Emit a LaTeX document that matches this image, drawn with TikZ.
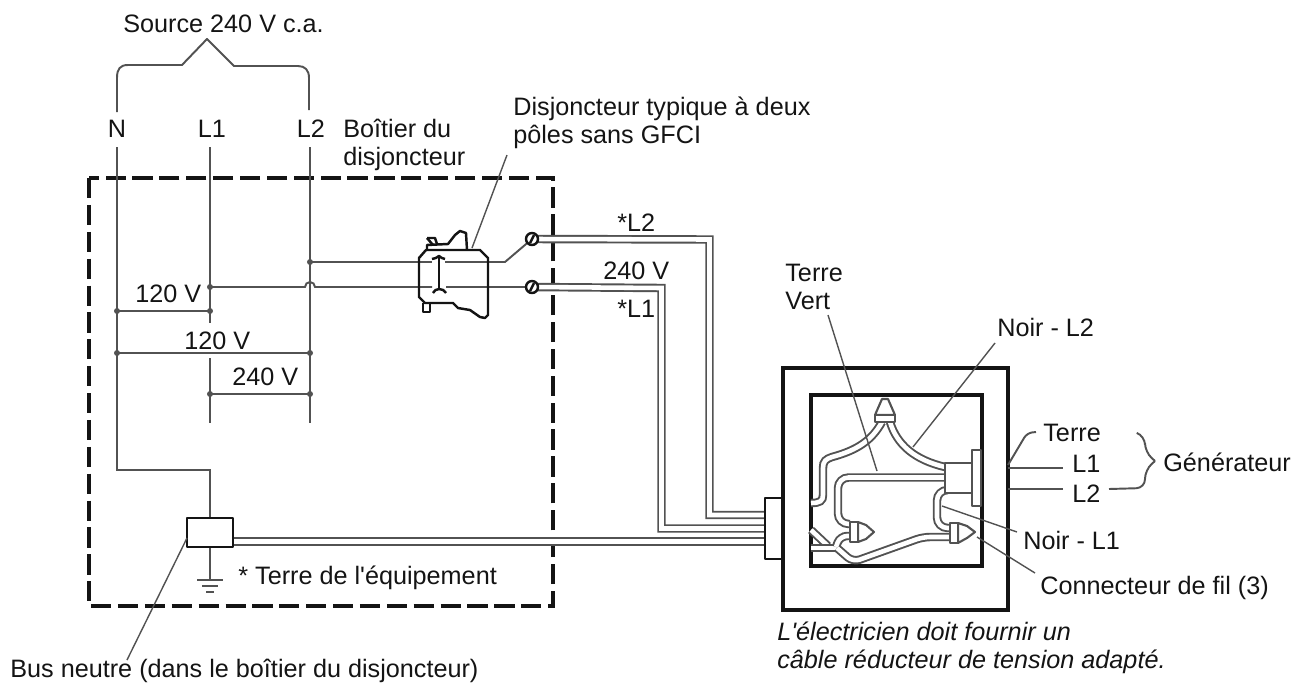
\documentclass[tikz,border=0pt]{standalone}
\usepackage{fontspec}
\newfontfamily\lblfont{Liberation Sans}
\usetikzlibrary{calc}
\definecolor{wiregray}{gray}{0.32}
\definecolor{boxblack}{gray}{0.08}
\tikzset{
  lbl/.style={anchor=base west,inner sep=0pt,font=\lblfont\fontsize{14.35}{17}\selectfont,text=boxblack},
  lblc/.style={anchor=base,inner sep=0pt,font=\lblfont\fontsize{14.35}{17}\selectfont,text=boxblack},
  thinwire/.style={draw=wiregray,line width=1.1pt},
  leader/.style={draw=wiregray,line width=0.8pt},
  wirepair/.style={draw=wiregray,line width=1.1pt,double=white,double distance=2.6pt},
  heavy/.style={draw=boxblack,line width=2pt},
  part/.style={draw=boxblack,line width=1.4pt,line join=round,fill=white},
  conn/.style={draw=wiregray,line width=1.2pt,line join=round,fill=white},
}
\begin{document}
\begin{tikzpicture}[x=0.02cm,y=-0.02cm]
\useasboundingbox (0,0) rectangle (1296,690);
% source side
\node[lbl] (source) at (123,32) {Source 240 V c.a.};
\node[lblc] (n) at (117,137) {N};
\node[lblc] (lone) at (212,137) {L1};
\node[lblc] (ltwo) at (311,137) {L2};
\node[lbl] (boitier) at (343,137) {Boîtier du};
\node[lbl] (boitierb) at (343,165) {disjoncteur};
\node[lbl] (typique) at (513,115) {Disjoncteur typique à deux};
\node[lbl] (typiqueb) at (513,143) {pôles sans GFCI};
\draw[thinwire,line join=round] (117,112) -- (117,78) .. controls (117,69) and (120,65) .. (128,65) -- (182,65) -- (207,39) -- (234,66) -- (298,66) .. controls (305,66) and (309,70) .. (309,78) -- (309,110);
% case
\draw[heavy,dash pattern=on 11.5pt off 3.8pt] (89,178) rectangle (553,606);
\coordinate (nt) at (117,147);
\coordinate (ot) at (210,147);
\coordinate (tt) at (310,147);
\coordinate (lka) at (210,287);
\coordinate (tka) at (310,262);
\coordinate (nb) at (117,311);
\coordinate (ob) at (210,311);
\coordinate (nc) at (117,353);
\coordinate (tc) at (310,353);
\coordinate (od) at (210,394);
\coordinate (td) at (310,394);
\draw[thinwire] (nt) -- (117,470) -- (210,470) -- (210,518);
\draw[thinwire] (ot) -- (210,323);
\draw[thinwire] (210,358) -- (210,423);
\draw[thinwire] (tt) -- (310,423);
\draw[thinwire] (nb) -- (ob);
\draw[thinwire] (nc) -- (tc);
\draw[thinwire] (od) -- (td);
\foreach \p in {lka,tka,nb,ob,nc,tc,od,td}
  \fill[wiregray] (\p) circle (3);
\node[lbl] (va) at (135,302) {120 V};
\node[lbl] (vb) at (184,349) {120 V};
\node[lbl] (vc) at (232,385) {240 V};
% feed to breaker
\coordinate (tone) at (532,239);
\coordinate (ttwo) at (532,287);
\draw[thinwire] (tka) -- (432,262);
\draw[thinwire] (445,262) -- (505,262) -- (tone);
\draw[thinwire] (lka) -- (305,287) arc (180:360:5) -- (432,287);
\draw[thinwire] (446,287) -- (ttwo);
% breaker
\draw[part,fill=none] (419,258) -- (426,250) -- (480,250) -- (488,258) -- (488,315) -- (485,318) -- (480,317) -- (470,310) -- (458,308) -- (453,303) -- (425,303) -- (419,297) -- cycle;
\draw[part,fill=none] (427,250) -- (427,245) -- (448,244) -- (455,235) -- (460,231) -- (466,233) -- (467,250);
\draw[part,fill=none] (427,238) -- (435,238) -- (437,244);
\draw[part,fill=none] (427,238) -- (433,245);
\draw[part,fill=none] (423,303) -- (423,312) -- (430,312) -- (430,303);
\draw[part,fill=none] (439,257) -- (439,289);
\draw[part,fill=none] (432,259) to[bend right=15] (439,256) to[bend right=15] (445,259);
\draw[part,fill=none] (433,293) to[bend left=30] (439,289) to[bend left=30] (446,293);
\draw[leader] (507,155) -- (472,248);
% wires to the box
\draw[wirepair] (tone) -- (709.5,239.5) -- (709.5,515) -- (765,515);
\draw[wirepair] (ttwo) -- (661.5,288) -- (661.5,528.5) -- (765,528.5);
\draw[wirepair] (233,541.5) -- (765,541.5);
\foreach \p in {tone,ttwo} {
  \draw[part] (\p) circle (6);
  \draw[part] ($(\p)+(-2,4)$) -- ($(\p)+(2,-4)$);
}
\node[lbl] (ltwow) at (617,231) {*L2};
\node[lbl] (vd) at (603,279) {240 V};
\node[lbl] (lonew) at (617,317) {*L1};
% bus bar
\draw[thinwire] (210,547) -- (210,580);
\draw[thinwire] (197,580) -- (223,580);
\draw[thinwire] (202,586) -- (218,586);
\draw[thinwire] (206,592) -- (214,592);
\draw[part] (187,518) rectangle (233,547);
\node[lbl] (equip) at (238,584) {* Terre de l'équipement};
\draw[leader] (187,538) -- (127,660);
\node[lbl] (bus) at (10,677) {Bus neutre (dans le boîtier du disjoncteur)};
% generator box
\draw[part] (765,498) rectangle (783,559);
\draw[heavy] (783,368) rectangle (1008,610);
\draw[heavy] (811,395) rectangle (982,566);
\draw[wirepair] (882,422) .. controls (872,440) and (858,450) .. (832,457) .. controls (826,459) and (823,461) .. (823,468) -- (823,495) .. controls (823,501) and (820,503) .. (811,503);
\draw[wirepair] (890,422) .. controls (897,445) and (915,460) .. (945,467);
\draw[wirepair,rounded corners=6] (945,477.5) -- (838,477.5) -- (838,524) -- (850,524);
\draw[wirepair] (811,530) -- (828,546);
\draw[wirepair] (811,548) -- (835,548);
\draw[wirepair,rounded corners=4] (850,536) -- (840,536) -- (836,547);
\draw[wirepair,rounded corners=4] (950,537) -- (923,537) -- (853,562) -- (837,548);
\draw[wirepair,rounded corners=6] (945,490) -- (937,490) -- (937,528) -- (950,528);
% connectors
\draw[conn] (875,415) -- (882,399) -- (888,399) -- (895,415) -- cycle;
\draw[conn] (875,415) rectangle (895,422);
\draw[conn] (858,522) -- (866,525) -- (874,532) -- (866,539) -- (858,542) -- cycle;
\draw[conn] (850,522) rectangle (858,542);
\draw[conn] (958,523) -- (967,526) -- (975,532) -- (967,538) -- (958,543) -- cycle;
\draw[conn] (950,523) rectangle (958,543);
\draw[conn] (945,463) rectangle (972,493);
\draw[conn] (972,450) rectangle (981,506);
% labels of the box
\node[lbl] (terre) at (785,281) {Terre};
\node[lbl] (vert) at (785,309) {Vert};
\draw[leader] (828,315) -- (877,471);
\node[lbl] (noirb) at (997,336) {Noir - L2};
\draw[leader] (995,343) -- (913,447);
\node[lbl] (noira) at (1023,549) {Noir - L1};
\draw[leader] (942,506) -- (1017,532);
\node[lbl] (fil) at (1040,594) {Connecteur de fil (3)};
\draw[leader] (977,537) -- (1035,573);
\node[lbl] (gterre) at (1043,441) {Terre};
\node[lbl] (gone) at (1072,472) {L1};
\node[lbl] (gtwo) at (1072,502) {L2};
\node[lbl] (gen) at (1163,471) {Générateur};
\draw[thinwire,rounded corners=3] (1008,465) -- (1027,433) -- (1036,432);
\draw[thinwire] (1008,468) -- (1063,468);
\draw[thinwire] (1008,489) -- (1063,489);
\draw[thinwire,rounded corners=5] (1137,433) -- (1145,436) -- (1145,452) -- (1155,461);
\draw[thinwire,rounded corners=5] (1155,461) -- (1145,470) -- (1145,488) -- (1109,489);
\node[lbl,font=\lblfont\fontsize{14.35}{17}\selectfont\itshape] (elec) at (777,640) {L'électricien doit fournir un};
\node[lbl,font=\lblfont\fontsize{14.35}{17}\selectfont\itshape] (elecb) at (777,668) {câble réducteur de tension adapté.};
\end{tikzpicture}
\end{document}
